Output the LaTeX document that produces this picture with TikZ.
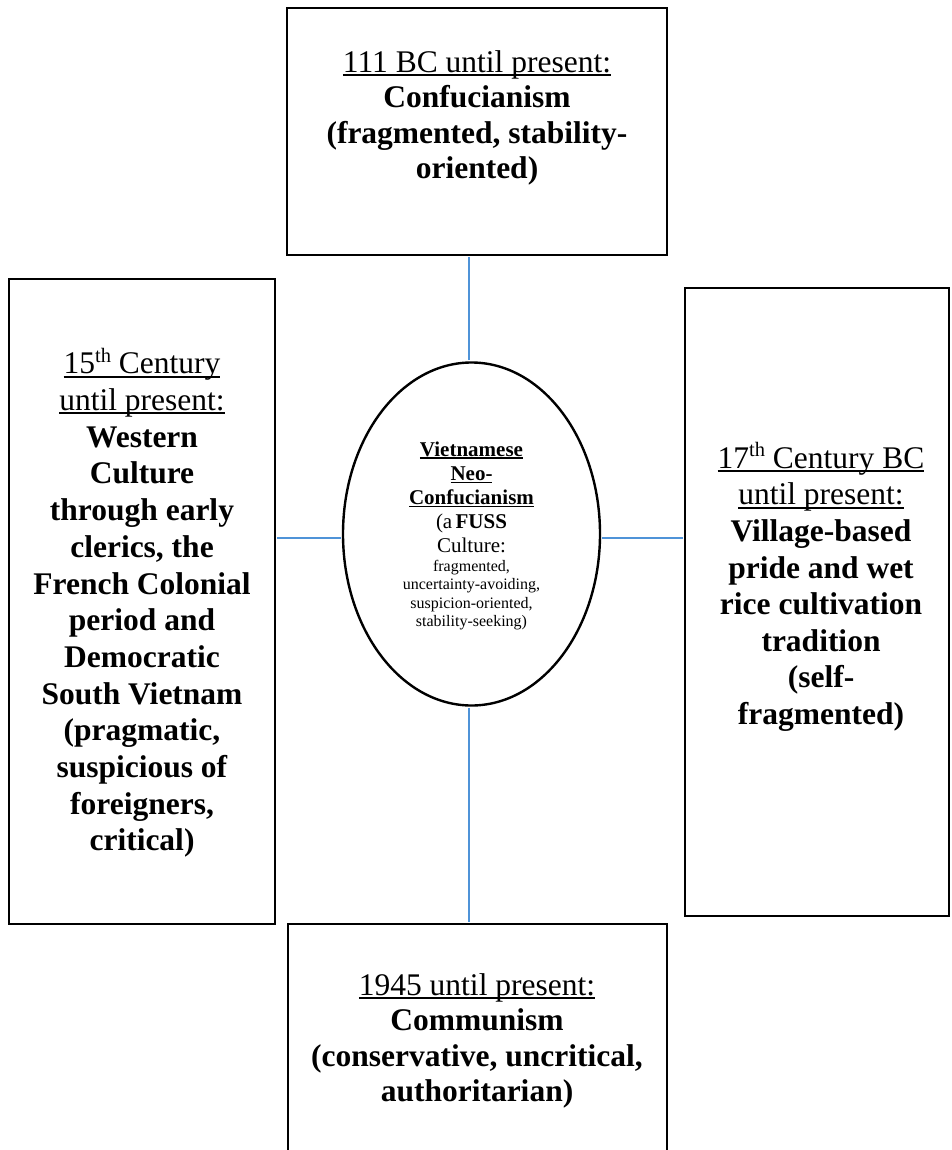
\documentclass[tikz,border=0pt]{standalone}
\usepackage{fontspec}
\setmainfont{Liberation Serif}
\usetikzlibrary{shapes.geometric}
\definecolor{connblue}{HTML}{4F93D8}
\newcommand\ulin[1]{\leavevmode\setbox0=\hbox{#1}\rlap{\rule[-0.12em]{\wd0}{0.065em}}\box0}
\newcommand\supr[1]{\raisebox{0.36em}{\fontsize{20.5}{20.5}\selectfont #1}}
\begin{document}
\begin{tikzpicture}[x=1pt,y=-1pt,
  framebox/.style={draw=black, line width=2.4pt, inner sep=0pt, fill=white},
  boxtext/.style={align=center, inner sep=0pt, font=\fontsize{31.5}{35.5}\selectfont},
  connline/.style={draw=connblue, line width=1.5pt, shorten <=1.1pt, shorten >=1.1pt}]
\clip (0,0) rectangle (951,1150);
\fill[white] (0,0) rectangle (951,1150);
% frames
\node[framebox, minimum width=380pt, minimum height=247pt] (top) at (477,131.5) {};
\node[framebox, minimum width=266pt, minimum height=645pt] (left) at (142,601.5) {};
\node[framebox, minimum width=264pt, minimum height=628pt] (right) at (817,602) {};
\node[framebox, minimum width=379pt, minimum height=240pt] (bottom) at (477.5,1044) {};
\node[framebox, ellipse, minimum width=257pt, minimum height=343pt] (ell) at (471.5,534) {};
% connectors
\draw[connline] ([xshift=-2.5pt]ell.north) -- ([xshift=-2.5pt]ell.north |- top.south);
\draw[connline] ([xshift=-2.5pt]ell.south) -- ([xshift=-2.5pt]ell.south |- bottom.north);
\draw[connline] ([yshift=-4pt]ell.west) -- ([yshift=-4pt]ell.west -| left.east);
\draw[connline] ([yshift=-4pt]ell.east) -- ([yshift=-4pt]ell.east -| right.west);
% texts
\node[boxtext] (toptext) at (477,118) {\ulin{111 BC until present:}\\
  \textbf{Confucianism}\\ \textbf{(fragmented, stability-}\\ \textbf{oriented)}};
\node[boxtext, font=\fontsize{31.5}{36.7}\selectfont] (lefttext) at (142,603) {\ulin{15\supr{th} Century}\\
  \ulin{until present:}\\ \textbf{Western}\\ \textbf{Culture}\\ \textbf{through early}\\
  \textbf{clerics, the}\\ \textbf{French Colonial}\\ \textbf{period and}\\ \textbf{Democratic}\\
  \textbf{South Vietnam}\\ \textbf{(pragmatic,}\\ \textbf{suspicious of}\\ \textbf{foreigners,}\\
  \textbf{critical)}};
\node[boxtext, font=\fontsize{31.5}{36.6}\selectfont] (righttext) at (821,587) {\ulin{17\supr{th} Century BC}\\
  \ulin{until present:}\\ \textbf{Village-based}\\ \textbf{pride and wet}\\ \textbf{rice cultivation}\\
  \textbf{tradition}\\ \textbf{(self-}\\ \textbf{fragmented)}};
\node[boxtext] (bottomtext) at (477,1041) {\ulin{1945 until present:}\\
  \textbf{Communism}\\ \textbf{(conservative, uncritical,}\\ \textbf{authoritarian)}};
\node[align=center, inner sep=0pt, text width=190pt] (elltext) at (471.5,536)
  {{\fontsize{21}{24.2}\selectfont \ulin{\textbf{Vietnamese}}\\ \ulin{\textbf{Neo-}}\\
   \ulin{\textbf{Confucianism}}\\ (a \textbf{FUSS}\\ Culture:\par}
   {\fontsize{16}{18.5}\selectfont fragmented,\\ uncertainty-avoiding,\\
   suspicion-oriented,\\ stability-seeking)\par}};
\end{tikzpicture}
\end{document}
